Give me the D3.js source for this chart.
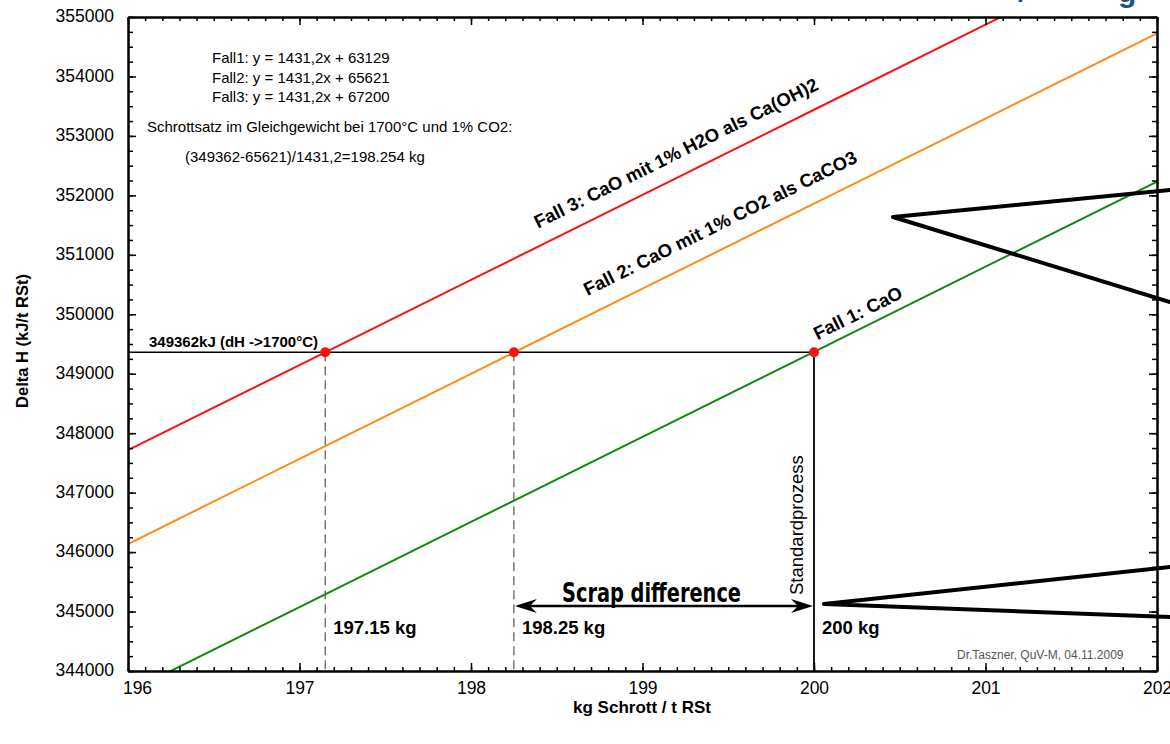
<!DOCTYPE html>
<html>
<head>
<meta charset="utf-8">
<script src="https://cdn.jsdelivr.net/npm/d3@7"></script>
<style>
body{margin:0;background:#fff}
svg{display:block;font-family:"Liberation Sans",Arial,sans-serif}
</style>
</head>
<body>
<div id="chart"></div>
<script>
// kg Schrott / t RSt and the three enthalpy lines (kJ/t RSt)
const xKg = [196, 197, 198, 199, 200, 201, 202]
const fall1 = [343644, 345075, 346507, 347938, 349369, 350800, 352231]
const fall2 = [346136, 347567, 348999, 350430, 351861, 353292, 354723]
const fall3 = [347715, 349146, 350578, 352009, 353440, 354871, 356302]

const xTicks = [196, 197, 198, 199, 200, 201, 202]
const yTicks = [344000, 345000, 346000, 347000, 348000, 349000, 350000, 351000, 352000, 353000, 354000, 355000]

const level = 349362            // dH bis 1700°C
const crossings = [197.15, 198.25, 200]
const crossLabels = ["197.15 kg", "198.25 kg", "200 kg"]

const equations = ["Fall1: y = 1431,2x + 63129", "Fall2: y = 1431,2x + 65621", "Fall3: y = 1431,2x + 67200"]

const W = 1170, H = 744
const margin = {top: 17, right: 13, bottom: 73, left: 128}
const pw = W - margin.left - margin.right
const ph = H - margin.top - margin.bottom

const x = d3.scaleLinear().domain([196, 202]).range([0, pw])
const y = d3.scaleLinear().domain([344000, 355000]).range([ph, 0])

const series = [
  {values: fall1, color: "#10880f", label: "Fall 1: CaO", at: 200.02, lift: 10},
  {values: fall2, color: "#ff8a14", label: "Fall 2: CaO mit 1% CO2 als CaCO3", at: 198.68, lift: 20},
  {values: fall3, color: "#ff1010", label: "Fall 3: CaO mit 1% H2O als Ca(OH)2", at: 198.39, lift: 18}
]

const svg = d3.select("#chart").append("svg").attr("width", W).attr("height", H)
svg.append("defs").append("clipPath").attr("id", "plot")
  .append("rect").attr("width", pw).attr("height", ph)

const g = svg.append("g").attr("transform", `translate(${margin.left},${margin.top})`)

// guide lines to the crossing points
g.append("line")
  .attr("x1", x(196)).attr("x2", x(200)).attr("y1", y(level)).attr("y2", y(level))
  .attr("stroke", "#000").attr("stroke-width", 1.6)
g.append("line")
  .attr("x1", x(200)).attr("x2", x(200)).attr("y1", y(level)).attr("y2", ph)
  .attr("stroke", "#000").attr("stroke-width", 1.8)
g.selectAll(".drop").data(crossings.slice(0, 2)).enter().append("line")
  .attr("x1", d => x(d)).attr("x2", d => x(d)).attr("y1", y(level)).attr("y2", ph)
  .attr("stroke", "#555").attr("stroke-width", 1.2).attr("stroke-dasharray", "9,5")

const line = d3.line().x((d, i) => x(xKg[i])).y(d => y(d))
g.append("g").attr("clip-path", "url(#plot)")
  .selectAll("path").data(series).enter().append("path")
  .attr("d", d => line(d.values))
  .attr("fill", "none").attr("stroke", d => d.color).attr("stroke-width", 2)

g.selectAll(".dot").data(crossings).enter().append("circle")
  .attr("cx", d => x(d)).attr("cy", y(level)).attr("r", 5).attr("fill", "#ff1010")

// line labels, rotated along the slope
const angle = Math.atan2(y(fall1[1]) - y(fall1[0]), x(xKg[1]) - x(xKg[0])) * 180 / Math.PI
series.forEach(s => {
  const val = s.values[0] + (s.values[1] - s.values[0]) * (s.at - xKg[0])
  g.append("text")
    .attr("transform", `translate(${x(s.at)},${y(val) - s.lift}) rotate(${angle})`)
    .attr("font-size", 18.5).attr("font-weight", "bold")
    .text(s.label)
})

// axes, ticks inward
const minorX = d3.range(196, 202.0001, 0.1)
const minorY = d3.range(344000, 355001, 250)
const fontFam = '"Liberation Sans",Arial,sans-serif'
function styleAxis(sel) {
  sel.attr("font-family", fontFam).attr("font-size", 17.5)
  sel.select(".domain").attr("stroke-width", 2)
  sel.selectAll(".tick line").attr("stroke-width", 1.5)
  sel.selectAll(".tick text").attr("fill", "#000")
}
const axes = [
  [d3.axisBottom(x).tickValues(minorX).tickSize(-4).tickFormat(""), `translate(0,${ph})`],
  [d3.axisTop(x).tickValues(minorX).tickSize(-4).tickFormat(""), "translate(0,0)"],
  [d3.axisTop(x).tickValues(xTicks).tickSize(-8).tickFormat(""), "translate(0,0)"],
  [d3.axisLeft(y).tickValues(minorY).tickSize(-5).tickFormat(""), "translate(0,0)"],
  [d3.axisRight(y).tickValues(minorY).tickSize(-5).tickFormat(""), `translate(${pw},0)`],
  [d3.axisRight(y).tickValues(yTicks).tickSize(-8).tickFormat(""), `translate(${pw},0)`],
  [d3.axisBottom(x).tickValues(xTicks).tickSize(-8).tickPadding(10.5).tickFormat(d3.format("d")), `translate(0,${ph})`],
  [d3.axisLeft(y).tickValues(yTicks).tickSize(-8).tickPadding(14).tickFormat(d3.format("d")), "translate(0,0)"]
]
axes.forEach(([ax, tr]) => {
  g.append("g").attr("transform", tr).call(ax.tickSizeOuter(0)).call(styleAxis)
})
g.selectAll(".tick text").filter(d => d === 196).attr("dx", 9)
g.selectAll(".tick text").filter(d => d > 1000).attr("dy", "0.28em")

// annotations
const ann = svg.append("g")
ann.selectAll(".eq").data(equations).enter().append("text")
  .attr("x", 212).attr("y", (d, i) => 63 + i * 19.5)
  .attr("font-size", 15).text(d => d)
ann.append("text").attr("x", 147).attr("y", 132).attr("font-size", 15)
  .text("Schrottsatz im Gleichgewicht bei 1700°C und 1% CO2:")
ann.append("text").attr("x", 185).attr("y", 162).attr("font-size", 15)
  .text("(349362-65621)/1431,2=198.254 kg")

g.append("text").attr("x", 21).attr("y", y(level) - 5)
  .attr("font-size", 15).attr("font-weight", "bold").text("349362kJ (dH ->1700°C)")

g.selectAll(".cl").data(crossings).enter().append("text")
  .attr("x", d => x(d) + 8).attr("y", 617)
  .attr("font-size", 18.5).attr("font-weight", "bold")
  .text((d, i) => crossLabels[i])

g.append("text")
  .attr("transform", `translate(${x(200) - 11},${578}) rotate(-90)`)
  .attr("font-size", 18.5).text("Standardprozess")

// scrap difference arrow
const ay = 589
g.append("line").attr("x1", x(198.25) + 6).attr("x2", x(200) - 6).attr("y1", ay).attr("y2", ay)
  .attr("stroke", "#000").attr("stroke-width", 2.5)
const head = (tip, dir) => `M${tip},${ay} L${tip + dir * 22},${ay - 7} L${tip + dir * 15},${ay} L${tip + dir * 22},${ay + 7} Z`
g.append("path").attr("d", head(x(198.25) + 1, 1)).attr("fill", "#000")
g.append("path").attr("d", head(x(200) - 1, -1)).attr("fill", "#000")
g.append("text").attr("x", 434).attr("y", 585)
  .attr("font-family", '"Liberation Sans Narrow","DejaVu Sans Condensed","Roboto",sans-serif')
  .attr("font-size", 26).attr("font-weight", "bold")
  .attr("textLength", 179).attr("lengthAdjust", "spacingAndGlyphs")
  .text("Scrap difference")

g.append("text").attr("x", 829).attr("y", 642).attr("font-size", 12).attr("fill", "#555")
  .text("Dr.Taszner, QuV-M, 04.11.2009")

// axis titles
svg.append("text").attr("transform", "translate(28,341) rotate(-90)")
  .attr("text-anchor", "middle").attr("font-size", 16.5).attr("font-weight", "bold")
  .text("Delta H (kJ/t RSt)")
svg.append("text").attr("x", 642).attr("y", 713)
  .attr("text-anchor", "middle").attr("font-size", 17).attr("font-weight", "bold")
  .text("kg Schrott / t RSt")

// callout wedges from an overlay at the right edge
const wedges = [
  [[1170, 190], [893, 217], [1170, 302]],
  [[1170, 567], [824, 604], [1170, 617]]
]
svg.selectAll(".wedge").data(wedges).enter().append("path")
  .attr("d", d => d3.line()(d))
  .attr("fill", "none").attr("stroke", "#000").attr("stroke-width", 4)
  .attr("stroke-linejoin", "round").attr("stroke-linecap", "round")

// cut-off title above the picture
svg.append("text").attr("x", 1018).attr("y", 2).attr("font-size", 30).attr("font-weight", "bold")
  .attr("fill", "#1c4f95").text("/")
svg.append("text").attr("x", 1118).attr("y", 2).attr("font-size", 30).attr("font-weight", "bold")
  .attr("fill", "#1c4f95").text("g")
</script>
</body>
</html>
